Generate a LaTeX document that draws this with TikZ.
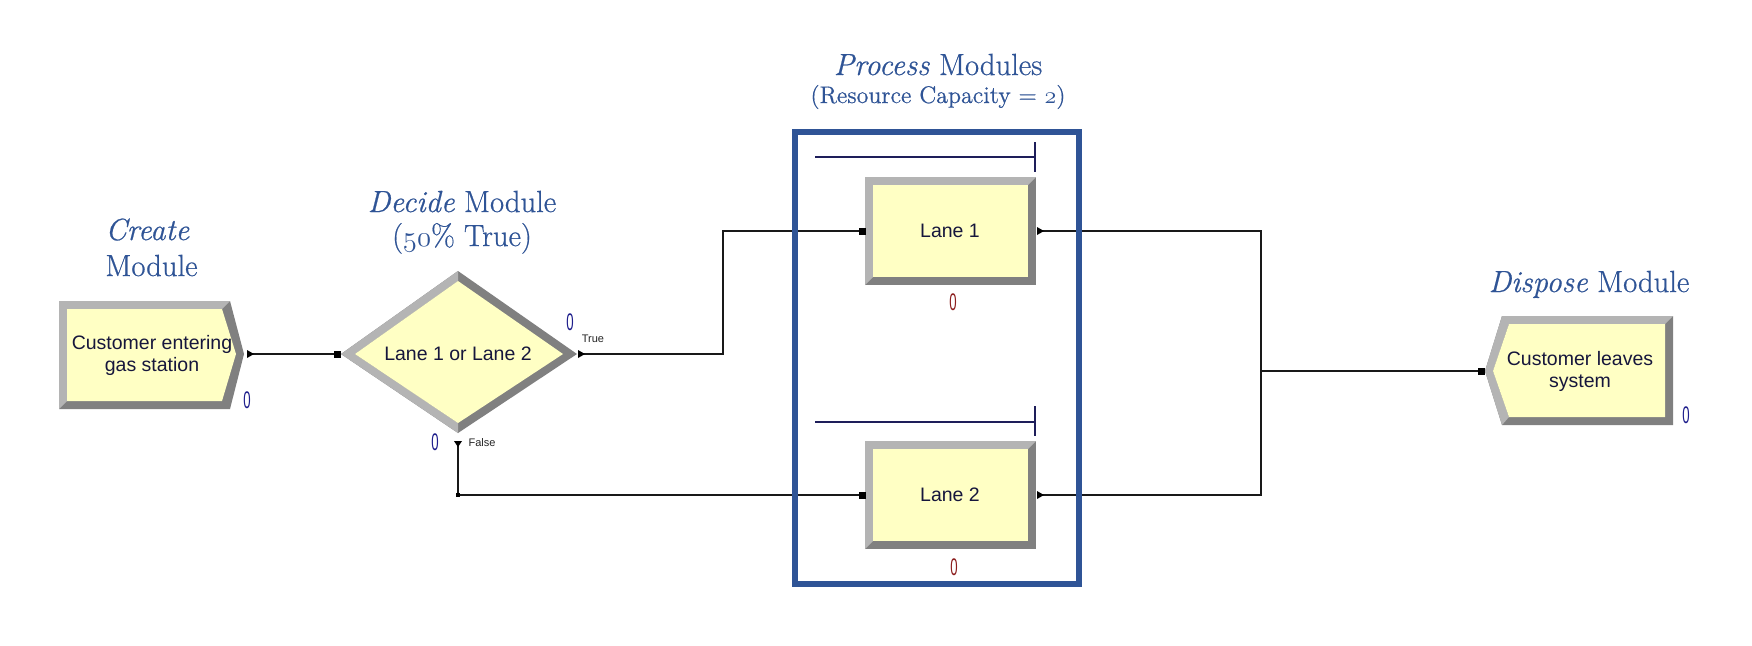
\documentclass[tikz,border=0pt]{standalone}
\usepackage{fontspec}
\usepackage{graphicx}
\newfontfamily\arenafont{Liberation Sans}
\newfontfamily\headfont{Latin Modern Roman}[RawFeature={embolden=0.6}]
\usetikzlibrary{calc}
\definecolor{headblue}{RGB}{47,84,150}
\definecolor{frameblue}{RGB}{47,84,150}
\definecolor{modyellow}{RGB}{255,255,196}
\definecolor{bevlight}{RGB}{180,180,180}
\definecolor{bevdark}{RGB}{128,128,128}
\definecolor{textnavy}{RGB}{22,22,60}
\definecolor{cntblue}{RGB}{30,30,140}
\definecolor{cntred}{RGB}{140,30,30}
\definecolor{queuenavy}{RGB}{30,30,90}
\newcommand\osn[1]{{\usefont{OML}{cmm}{m}{it}#1}}
\begin{document}
\begin{tikzpicture}[x=0.5pt,y=-0.5pt,
 modtext/.style={font=\arenafont\fontsize{9.75pt}{11pt}\selectfont, text=textnavy, align=center, inner sep=0pt},
 heading/.style={font=\headfont\fontsize{15.3pt}{18pt}\selectfont, text=headblue, inner sep=0pt, anchor=base},
 subheading/.style={font=\headfont\fontsize{12pt}{14pt}\selectfont, text=headblue, inner sep=0pt, anchor=base},
 conn/.style={draw=black!90, line width=0.7pt},
 cnt/.style={font=\arenafont\fontsize{12pt}{12pt}\selectfont, inner sep=0pt},
 branch/.style={font=\arenafont\fontsize{5.5pt}{6pt}\selectfont, text=black!85, inner sep=0pt},
 queueline/.style={draw=queuenavy, line width=0.75pt},
 pframe/.style={draw=frameblue, line width=3pt},
 bevl/.style={fill=bevlight},
 bevd/.style={fill=bevdark},
 modface/.style={fill=modyellow}
]
\fill[white] (0,0) rectangle (1752,645);
\useasboundingbox (0,0) rectangle (1752,645);

% ---------- Create module ----------
\fill[bevd] (59,301) -- (230,301) -- (244,354) -- (230,409) -- (59,409) -- cycle;
\fill[bevl] (59,409) -- (59,301) -- (230,301) -- (222,309) -- (67,309) -- (67,401) -- cycle;
\fill[modface] (67,309) -- (222,309) -- (236,354) -- (222,401) -- (67,401) -- cycle;
\node[modtext] (create) at (152,355) {Customer entering\\gas station};
\node[cnt, text=cntblue] (createCnt) at (247,400) {\scalebox{0.55}[1]{0}};

% ---------- Decide module ----------
\fill[bevd] (341,354) -- (458,271) -- (577,354) -- (458,433) -- cycle;
\fill[bevl] (458,433) -- (341,354) -- (458,271) -- (458,281) -- (355,354) -- (458,423) -- cycle;
\fill[modface] (355,354) -- (458,281) -- (563,354) -- (458,423) -- cycle;
\node[modtext] (decide) at (458,354) {Lane 1 or Lane 2};
\node[cnt, text=cntblue] (trueCnt) at (570,322) {\scalebox{0.55}[1]{0}};
\node[cnt, text=cntblue] (falseCnt) at (435,442) {\scalebox{0.55}[1]{0}};
\node[branch] (trueLbl) at (593,339) {True};
\node[branch] (falseLbl) at (482,443) {False};

% ---------- Process modules ----------
\fill[bevd] (865,177) rectangle (1036,285);
\fill[bevl] (865,285) -- (865,177) -- (1036,177) -- (1028,185) -- (873,185) -- (873,277) -- cycle;
\fill[modface] (873,185) rectangle (1028,277);
\node[modtext] (lane1) at (950,231) {Lane 1};
\node[cnt, text=cntred] (lane1Cnt) at (953,302) {\scalebox{0.55}[1]{0}};
\draw[queueline] (815,157) -- (1035,157);
\draw[queueline] (1035,142) -- (1035,172);

\fill[bevd] (865,441) rectangle (1036,549);
\fill[bevl] (865,549) -- (865,441) -- (1036,441) -- (1028,449) -- (873,449) -- (873,541) -- cycle;
\fill[modface] (873,449) rectangle (1028,541);
\node[modtext] (lane2) at (950,495) {Lane 2};
\node[cnt, text=cntred] (lane2Cnt) at (954,567) {\scalebox{0.55}[1]{0}};
\draw[queueline] (815,422) -- (1035,422);
\draw[queueline] (1035,406) -- (1035,436);

% ---------- Dispose module ----------
\fill[bevd] (1502,316) -- (1673,316) -- (1673,425) -- (1502,425) -- (1485,371) -- cycle;
\fill[bevl] (1502,425) -- (1485,371) -- (1502,316) -- (1673,316) -- (1665,324) -- (1509,324) -- (1493,371) -- (1509,417) -- cycle;
\fill[modface] (1509,324) -- (1665,324) -- (1665,417) -- (1509,417) -- (1493,371) -- cycle;
\node[modtext] (dispose) at (1580,371) {Customer leaves\\system};
\node[cnt, text=cntblue] (disposeCnt) at (1686,415) {\scalebox{0.55}[1]{0}};

% ---------- ports ----------
\coordinate (createOut) at (249,354);
\coordinate (decideIn) at (337,354);
\coordinate (decideTrue) at (580,354);
\coordinate (decideFalse) at (458,444);
\coordinate (trueBend) at (723,354);
\coordinate (lane1In) at (862,231);
\coordinate (lane1Out) at (1039,231);
\coordinate (lane2In) at (862,495);
\coordinate (lane2Out) at (1039,495);
\coordinate (merge) at (1261,371);
\coordinate (disposeIn) at (1481,371);

% ---------- connectors ----------
\draw[conn] (createOut) -- (decideIn);
\draw[conn] (decideTrue) -- (trueBend) |- (lane1In);
\draw[conn] (decideFalse) |- (lane2In);
\draw[conn] (lane1Out) -| (merge);
\draw[conn] (lane2Out) -| (merge);
\draw[conn] (merge) -- (disposeIn);

% exit markers (triangles)
\fill (createOut) ++(-2,-4) -- ++(7,4) -- ++(-7,4) -- cycle;
\fill (decideTrue) ++(-2,-4) -- ++(7,4) -- ++(-7,4) -- cycle;
\fill (lane1Out) ++(-2,-4) -- ++(7,4) -- ++(-7,4) -- cycle;
\fill (lane2Out) ++(-2,-4) -- ++(7,4) -- ++(-7,4) -- cycle;
\fill (decideFalse) ++(-4,-3) -- ++(8,0) -- ++(-4,6) -- cycle;
% entry markers (squares)
\fill ($(decideIn)+(-3.5,-3.5)$) rectangle ++(7,7);
\fill ($(lane1In)+(-3.5,-3.5)$) rectangle ++(7,7);
\fill ($(lane2In)+(-3.5,-3.5)$) rectangle ++(7,7);
\fill ($(disposeIn)+(-3.5,-3.5)$) rectangle ++(7,7);
\fill ($(decideFalse |- lane2In)+(-2,-2)$) rectangle ++(4,4);

% ---------- frame ----------
\draw[pframe] (795,132) rectangle (1079,584);

% ---------- headings ----------
\node[heading, anchor=base west] (createHead1) at (105,240) {\textit{Create}};
\node[heading, anchor=base west] (createHead2) at (105,276) {Module};
\node[heading] (decideHead1) at (462,212) {\textit{Decide} Module};
\node[heading] (decideHead2) at (462,246) {(\osn{50}\% True)};
\node[heading] (processHead) at (938,75) {\textit{Process} Modules};
\node[subheading] (processSub) at (938,103) {(Resource Capacity = \osn{2})};
\node[heading] (disposeHead) at (1589,292) {\textit{Dispose} Module};
\end{tikzpicture}
\end{document}
